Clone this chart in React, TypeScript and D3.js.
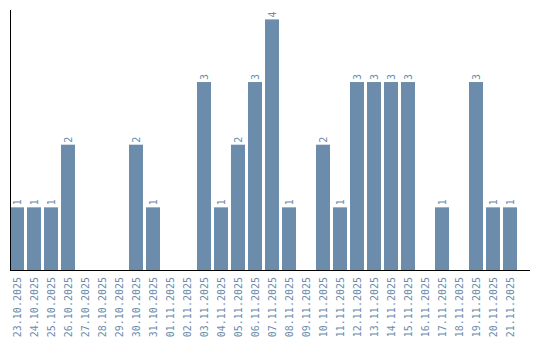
import React from "react";
import * as d3 from "d3";

const dates = [
  "23.10.2025","24.10.2025","25.10.2025","26.10.2025","27.10.2025","28.10.2025",
  "29.10.2025","30.10.2025","31.10.2025","01.11.2025","02.11.2025","03.11.2025",
  "04.11.2025","05.11.2025","06.11.2025","07.11.2025","08.11.2025","09.11.2025",
  "10.11.2025","11.11.2025","12.11.2025","13.11.2025","14.11.2025","15.11.2025",
  "16.11.2025","17.11.2025","18.11.2025","19.11.2025","20.11.2025","21.11.2025",
];
const counts = [1,1,1,2,0,0,0,2,1,0,0,3,1,2,3,4,1,0,2,1,3,3,3,3,0,1,0,3,1,1];

const W = 540, H = 340;
const left = 10, top = 10, bottom = 270, right = 530;
const color = "#6b8cab";
const font = "'DejaVu Sans Mono', monospace";

export default function App() {
  const x = d3.scaleBand<string>().domain(dates).range([left, left + 17 * 30 - 3]).paddingInner(3 / 17).paddingOuter(0);
  const y = d3.scaleLinear().domain([0, 4.15]).range([bottom, top]);
  return (
    <svg width={W} height={H} style={{ position: "absolute", left: 0, top: 0 }}>
      {dates.map((d, i) => {
        const v = counts[i];
        const bx = x(d)!;
        const cx = bx + x.bandwidth() / 2;
        return (
          <g key={d}>
            {v > 0 && (
              <>
                <rect x={bx} y={y(v)} width={x.bandwidth()} height={bottom - y(v)} fill={color} />
                <text transform={`translate(${cx + 3.5},${y(v) - 2}) rotate(-90)`} fontFamily={font} fontSize={10} fill={color} textAnchor="start">{v}</text>
              </>
            )}
            <text transform={`translate(${cx + 3.5},${bottom + 7}) rotate(-90)`} fontFamily={font} fontSize={10} fill={color} textAnchor="end">{d}</text>
          </g>
        );
      })}
      <line x1={left + 0.5} x2={left + 0.5} y1={top} y2={bottom} stroke="#000" strokeWidth={1} />
      <line x1={left} x2={right} y1={bottom + 0.5} y2={bottom + 0.5} stroke="#000" strokeWidth={1.2} />
    </svg>
  );
}
